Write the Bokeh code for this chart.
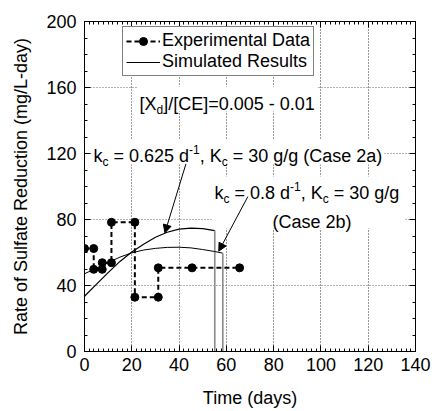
from bokeh.plotting import figure
from bokeh.models import (Label, Arrow, NormalHead, BoxAnnotation, Legend, LegendItem,
                          LinearAxis, Range1d, FixedTicker)
from bokeh.embed import file_html
from bokeh.resources import INLINE

# ---------------- data ----------------
exp_time = [0, 3.9, 3.9, 7.5, 7.5, 11.4, 11.4, 21.3, 21.3, 31.2, 31.2, 45.5, 65.6]
exp_rate = [62.4, 62.4, 49.8, 49.8, 53.8, 53.8, 78.3, 78.3, 32.9, 32.9, 50.7, 50.7, 50.7]

sim2a_time = [0, 5, 10, 15, 20, 25, 30, 35, 40, 45, 50, 55.1, 55.1]
sim2a_rate = [33.5, 40.7, 47.8, 54.6, 60.3, 65.0, 69.2, 72.3, 74.2, 74.8, 74.5, 73.3, 0]
sim2b_time = [0, 5, 10, 15, 20, 25, 30, 35, 40, 45, 50, 55, 58.5, 58.5]
sim2b_rate = [47.1, 50.5, 53.9, 57.2, 59.8, 61.5, 62.5, 63.1, 63.2, 62.8, 61.8, 60.6, 59.6, 0]

x_ticks = [0, 20, 40, 60, 80, 100, 120, 140]
y_ticks = [0, 40, 80, 120, 160, 200]
x_minor = list(range(0, 141, 2))
y_minor = list(range(0, 201, 10))

FONT = "Liberation Sans"

p = figure(frame_width=331, frame_height=330,
           x_range=Range1d(0, 140), y_range=Range1d(0, 200),
           output_backend="svg", toolbar_location=None,
           min_border_left=84, min_border_top=21, min_border_right=17, min_border_bottom=60,
           x_axis_label="Time (days)",
           y_axis_label="Rate of Sulfate Reduction (mg/L-day)")
p.outline_line_color = "black"
p.background_fill_color = "white"
p.border_fill_color = "white"

for ax, tk, mn in ((p.xaxis[0], x_ticks, x_minor), (p.yaxis[0], y_ticks, y_minor)):
    ax.ticker = FixedTicker(ticks=tk, minor_ticks=mn)
    ax.major_tick_in = 6
    ax.major_tick_out = 0
    ax.minor_tick_in = 3
    ax.minor_tick_out = 0
    ax.axis_line_color = "black"
    ax.major_tick_line_color = "black"
    ax.minor_tick_line_color = "black"
    ax.major_label_text_font = FONT
    ax.major_label_text_font_size = "18px"
    ax.major_label_text_color = "black"
    ax.axis_label_text_font = FONT
    ax.axis_label_text_font_size = "18px"
    ax.axis_label_text_font_style = "normal"
    ax.axis_label_text_color = "black"
p.xaxis.major_label_standoff = 6
p.xaxis.axis_label_standoff = 14
p.yaxis.major_label_standoff = 8
p.yaxis.axis_label_standoff = 12

for loc, tk, mn in (("right", y_ticks, y_minor), ("above", x_ticks, x_minor)):
    ax = LinearAxis(ticker=FixedTicker(ticks=tk, minor_ticks=mn),
                    major_tick_in=6, major_tick_out=0, minor_tick_in=3, minor_tick_out=0,
                    major_label_overrides={t: "" for t in tk},
                    major_label_text_font_size="10px", major_label_standoff=0,
                    axis_line_color="black")
    p.add_layout(ax, loc)

p.xgrid.ticker = FixedTicker(ticks=x_ticks)
p.ygrid.ticker = FixedTicker(ticks=y_ticks)
p.xgrid.grid_line_color = "#333333"
p.xgrid.grid_line_dash = "1 2"
p.ygrid.grid_line_color = "#666666"
p.ygrid.grid_line_dash = "1 2"

# ---------------- white boxes behind text ----------------
PX_X = 331 / 140.0
PX_Y = 330 / 200.0

W = {' ': 278, '=': 584, '.': 278, '-': 333, ',': 278, '/': 278, '(': 333, ')': 333,
     '[': 278, ']': 278, 'k': 500, 'c': 500, 'd': 556, 'g': 556, 'a': 556, 's': 500,
     'e': 556, 'b': 556, 'K': 667, 'C': 722, 'X': 667, 'E': 667}


def tw(s, size):
    return sum(W.get(ch, 556) for ch in s) / 1000.0 * size


def rich_width(parts, size=18, small=12):
    return sum(tw(t, size if k == 'n' else small) for t, k in parts)


def rich(x, y, parts, size=18, small=12):
    off = 0.0
    for text, kind in parts:
        fs = size if kind == 'n' else small
        dy = 0 if kind == 'n' else (-6 if kind == 'sub' else 7)
        stripped = text.lstrip(' ')
        lead = tw(text[:len(text) - len(stripped)], fs)
        p.add_layout(Label(x=x, y=y, x_offset=off + lead, y_offset=dy, text=stripped.rstrip(' '),
                           text_font=FONT, text_font_size=f"{fs}px", text_color="black",
                           text_baseline="alphabetic", text_align="left"))
        off += tw(text, fs)
    return off


def white_box(x0, y0, wpx, above=16, below=6, extra_right=2):
    p.add_layout(BoxAnnotation(left=x0 - 2 / PX_X, right=x0 + (wpx + extra_right) / PX_X,
                               bottom=y0 - below / PX_Y, top=y0 + above / PX_Y,
                               fill_color="white", fill_alpha=1, line_color=None,
                               level="underlay"))


lab1 = [("[X", 'n'), ("d", 'sub'), ("]/[CE]=0.005 - 0.01", 'n')]
lab2 = [("k", 'n'), ("c", 'sub'), (" = 0.625 d", 'n'), ("-1", 'sup'), (", K", 'n'),
        ("c", 'sub'), (" = 30 g/g (Case 2a)", 'n')]
lab3 = [("k", 'n'), ("c", 'sub'), (" = 0.8 d", 'n'), ("-1", 'sup'), (", K", 'n'),
        ("c", 'sub'), (" = 30 g/g", 'n')]
lab4 = [("(Case 2b)", 'n')]

pos1 = (23.3, 150.3)
pos2 = (3.8, 118.2)
pos3 = (55.0, 95.8)
pos4 = (79.5, 78.2)

white_box(*pos1, rich_width(lab1), above=17, below=8)
white_box(*pos2, rich_width(lab2), above=17, below=8)
white_box(pos3[0], pos4[1], rich_width(lab3) + 4, above=(pos3[1] - pos4[1]) * PX_Y + 17, below=6)

# ---------------- glyphs ----------------
r_2a = p.line(sim2a_time[:-1], sim2a_rate[:-1], line_color="black", line_width=1.2)
p.line(sim2a_time[-2:], sim2a_rate[-2:], line_color="#8a8a8a", line_width=1.6)
r_2b = p.line(sim2b_time[:-1], sim2b_rate[:-1], line_color="black", line_width=1.0)
p.line(sim2b_time[-2:], sim2b_rate[-2:], line_color="#8a8a8a", line_width=1.6)

r_exp_line = p.line(exp_time, exp_rate, line_color="black", line_width=2, line_dash="5 3")
r_exp_pts = p.scatter(exp_time, exp_rate, size=8, marker="circle", fill_color="black",
                      line_color="black")

# ---------------- text & arrows ----------------
rich(*pos1, lab1)
rich(*pos2, lab2)
rich(*pos3, lab3)
rich(*pos4, lab4)

p.add_layout(Arrow(end=NormalHead(size=8, fill_color="black", line_color="black"),
                   x_start=42.9, y_start=113.7, x_end=34.0, y_end=71.9,
                   line_color="black", line_width=1))
p.add_layout(Arrow(end=NormalHead(size=8, fill_color="black", line_color="black"),
                   x_start=69.1, y_start=93.9, x_end=56.8, y_end=60.8,
                   line_color="black", line_width=1))

# ---------------- legend ----------------
legend = Legend(items=[LegendItem(label="Experimental Data", renderers=[r_exp_line, r_exp_pts]),
                       LegendItem(label="Simulated Results", renderers=[r_2a])],
                location=(38, 275), orientation="vertical",
                label_text_font=FONT, label_text_font_size="18px", label_text_color="black",
                glyph_width=34, glyph_height=20, label_height=20, label_standoff=2,
                padding=3, spacing=0, margin=0,
                border_line_color="black", border_line_width=1,
                background_fill_color="white", background_fill_alpha=1)
p.add_layout(legend)

open("out.html", "w").write(file_html(p, INLINE))
